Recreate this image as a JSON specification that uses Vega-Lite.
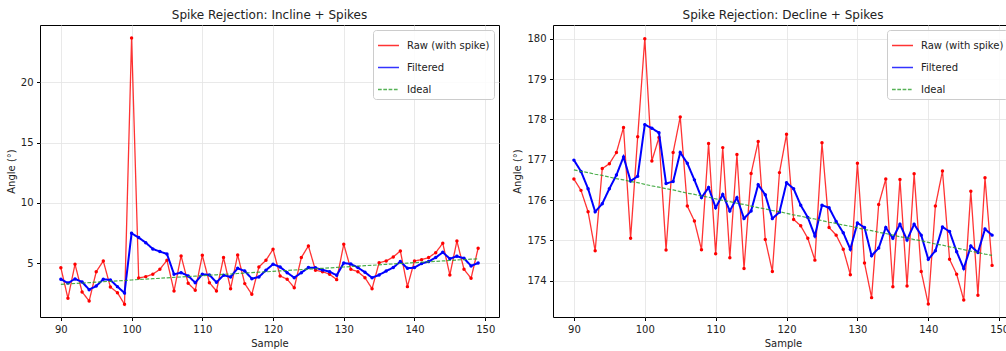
{
  "$schema": "https://vega.github.io/schema/vega-lite/v6.json",
  "padding": {"left": 5, "top": 8, "right": 0, "bottom": 0},
  "background": "white",
  "config": {
    "font": "DejaVu Sans",
    "view": {"stroke": "#000", "strokeWidth": 1},
    "axis": {
      "domain": false,
      "labelFontSize": 10,
      "titleFontSize": 10,
      "titleFontWeight": "normal",
      "labelColor": "#222",
      "titleColor": "#222",
      "tickColor": "#000",
      "tickSize": 3.5,
      "labelPadding": 3.5,
      "titlePadding": 4,
      "gridColor": "#e3e3e3",
      "gridWidth": 0.8
    },
    "title": {"fontSize": 12, "fontWeight": "normal", "color": "#222", "offset": 3},
    "legend": {
      "orient": "top-right",
      "offset": 5,
      "padding": 4,
      "strokeColor": "#cccccc",
      "fillColor": "rgba(255,255,255,0.85)",
      "cornerRadius": 3,
      "labelFontSize": 10,
      "labelColor": "#222",
      "symbolType": "stroke",
      "symbolSize": 440,
      "symbolStrokeWidth": 1.5,
      "labelOffset": 7,
      "rowPadding": 5
    }
  },
  "datasets": {
    "incline": [
      {"sample":90,"raw":4.63,"filtered":3.67,"ideal":3.25},
      {"sample":91,"raw":2.09,"filtered":3.36,"ideal":3.29},
      {"sample":92,"raw":4.92,"filtered":3.70,"ideal":3.32},
      {"sample":93,"raw":2.62,"filtered":3.45,"ideal":3.36},
      {"sample":94,"raw":1.87,"filtered":2.81,"ideal":3.39},
      {"sample":95,"raw":4.30,"filtered":3.11,"ideal":3.43},
      {"sample":96,"raw":5.19,"filtered":3.67,"ideal":3.47},
      {"sample":97,"raw":3.03,"filtered":3.61,"ideal":3.50},
      {"sample":98,"raw":2.56,"filtered":3.06,"ideal":3.54},
      {"sample":99,"raw":1.59,"filtered":2.53,"ideal":3.57},
      {"sample":100,"raw":23.69,"filtered":7.49,"ideal":3.61},
      {"sample":101,"raw":3.78,"filtered":7.13,"ideal":3.65},
      {"sample":102,"raw":3.89,"filtered":6.71,"ideal":3.68},
      {"sample":103,"raw":4.09,"filtered":6.19,"ideal":3.72},
      {"sample":104,"raw":4.50,"filtered":5.97,"ideal":3.75},
      {"sample":105,"raw":5.25,"filtered":5.77,"ideal":3.79},
      {"sample":106,"raw":2.70,"filtered":4.09,"ideal":3.83},
      {"sample":107,"raw":5.61,"filtered":4.22,"ideal":3.86},
      {"sample":108,"raw":3.34,"filtered":3.95,"ideal":3.90},
      {"sample":109,"raw":2.76,"filtered":3.39,"ideal":3.93},
      {"sample":110,"raw":5.66,"filtered":4.09,"ideal":3.97},
      {"sample":111,"raw":3.39,"filtered":4.03,"ideal":4.01},
      {"sample":112,"raw":2.70,"filtered":3.42,"ideal":4.04},
      {"sample":113,"raw":5.47,"filtered":4.00,"ideal":4.08},
      {"sample":114,"raw":2.89,"filtered":3.86,"ideal":4.11},
      {"sample":115,"raw":5.69,"filtered":4.58,"ideal":4.15},
      {"sample":116,"raw":3.31,"filtered":4.36,"ideal":4.19},
      {"sample":117,"raw":2.42,"filtered":3.72,"ideal":4.22},
      {"sample":118,"raw":4.69,"filtered":3.86,"ideal":4.26},
      {"sample":119,"raw":5.25,"filtered":4.42,"ideal":4.29},
      {"sample":120,"raw":6.16,"filtered":4.92,"ideal":4.33},
      {"sample":121,"raw":3.95,"filtered":4.69,"ideal":4.37},
      {"sample":122,"raw":3.67,"filtered":4.22,"ideal":4.40},
      {"sample":123,"raw":2.97,"filtered":3.80,"ideal":4.44},
      {"sample":124,"raw":5.47,"filtered":4.22,"ideal":4.47},
      {"sample":125,"raw":6.44,"filtered":4.64,"ideal":4.51},
      {"sample":126,"raw":4.42,"filtered":4.62,"ideal":4.55},
      {"sample":127,"raw":4.30,"filtered":4.44,"ideal":4.58},
      {"sample":128,"raw":4.09,"filtered":4.30,"ideal":4.62},
      {"sample":129,"raw":3.64,"filtered":4.00,"ideal":4.65},
      {"sample":130,"raw":6.58,"filtered":5.02,"ideal":4.69},
      {"sample":131,"raw":4.50,"filtered":4.94,"ideal":4.73},
      {"sample":132,"raw":4.30,"filtered":4.64,"ideal":4.76},
      {"sample":133,"raw":3.80,"filtered":4.25,"ideal":4.80},
      {"sample":134,"raw":2.89,"filtered":3.80,"ideal":4.83},
      {"sample":135,"raw":5.05,"filtered":4.03,"ideal":4.87},
      {"sample":136,"raw":5.19,"filtered":4.36,"ideal":4.91},
      {"sample":137,"raw":5.52,"filtered":4.64,"ideal":4.94},
      {"sample":138,"raw":6.02,"filtered":5.14,"ideal":4.98},
      {"sample":139,"raw":3.06,"filtered":4.58,"ideal":5.01},
      {"sample":140,"raw":5.19,"filtered":4.64,"ideal":5.05},
      {"sample":141,"raw":5.30,"filtered":4.97,"ideal":5.09},
      {"sample":142,"raw":5.47,"filtered":5.14,"ideal":5.12},
      {"sample":143,"raw":5.88,"filtered":5.47,"ideal":5.16},
      {"sample":144,"raw":6.66,"filtered":5.91,"ideal":5.19},
      {"sample":145,"raw":4.03,"filtered":5.38,"ideal":5.23},
      {"sample":146,"raw":6.85,"filtered":5.58,"ideal":5.27},
      {"sample":147,"raw":4.50,"filtered":5.41,"ideal":5.30},
      {"sample":148,"raw":3.75,"filtered":4.78,"ideal":5.34},
      {"sample":149,"raw":6.25,"filtered":5.02,"ideal":5.37}
    ],
    "decline": [
      {"sample":90,"raw":176.52,"filtered":176.99,"ideal":176.75},
      {"sample":91,"raw":176.24,"filtered":176.71,"ideal":176.71},
      {"sample":92,"raw":175.71,"filtered":176.28,"ideal":176.68},
      {"sample":93,"raw":174.74,"filtered":175.71,"ideal":176.64},
      {"sample":94,"raw":176.78,"filtered":175.91,"ideal":176.61},
      {"sample":95,"raw":176.90,"filtered":176.28,"ideal":176.57},
      {"sample":96,"raw":177.18,"filtered":176.62,"ideal":176.53},
      {"sample":97,"raw":177.80,"filtered":177.07,"ideal":176.50},
      {"sample":98,"raw":175.05,"filtered":176.47,"ideal":176.46},
      {"sample":99,"raw":177.57,"filtered":176.59,"ideal":176.43},
      {"sample":100,"raw":180.00,"filtered":177.87,"ideal":176.39},
      {"sample":101,"raw":176.97,"filtered":177.78,"ideal":176.35},
      {"sample":102,"raw":177.55,"filtered":177.67,"ideal":176.32},
      {"sample":103,"raw":174.76,"filtered":176.41,"ideal":176.28},
      {"sample":104,"raw":177.18,"filtered":176.46,"ideal":176.25},
      {"sample":105,"raw":178.06,"filtered":177.18,"ideal":176.21},
      {"sample":106,"raw":175.85,"filtered":176.91,"ideal":176.17},
      {"sample":107,"raw":175.48,"filtered":176.50,"ideal":176.14},
      {"sample":108,"raw":174.77,"filtered":176.06,"ideal":176.10},
      {"sample":109,"raw":177.40,"filtered":176.31,"ideal":176.07},
      {"sample":110,"raw":174.67,"filtered":175.81,"ideal":176.03},
      {"sample":111,"raw":177.30,"filtered":176.14,"ideal":175.99},
      {"sample":112,"raw":174.57,"filtered":175.73,"ideal":175.96},
      {"sample":113,"raw":177.13,"filtered":176.06,"ideal":175.92},
      {"sample":114,"raw":174.30,"filtered":175.54,"ideal":175.89},
      {"sample":115,"raw":176.66,"filtered":175.73,"ideal":175.85},
      {"sample":116,"raw":177.45,"filtered":176.38,"ideal":175.81},
      {"sample":117,"raw":175.02,"filtered":176.13,"ideal":175.78},
      {"sample":118,"raw":174.23,"filtered":175.54,"ideal":175.74},
      {"sample":119,"raw":176.68,"filtered":175.70,"ideal":175.71},
      {"sample":120,"raw":177.63,"filtered":176.43,"ideal":175.67},
      {"sample":121,"raw":175.52,"filtered":176.28,"ideal":175.63},
      {"sample":122,"raw":175.36,"filtered":175.87,"ideal":175.60},
      {"sample":123,"raw":175.05,"filtered":175.57,"ideal":175.56},
      {"sample":124,"raw":174.51,"filtered":175.11,"ideal":175.53},
      {"sample":125,"raw":177.42,"filtered":175.87,"ideal":175.49},
      {"sample":126,"raw":175.32,"filtered":175.81,"ideal":175.45},
      {"sample":127,"raw":175.13,"filtered":175.47,"ideal":175.42},
      {"sample":128,"raw":174.78,"filtered":175.19,"ideal":175.38},
      {"sample":129,"raw":174.15,"filtered":174.78,"ideal":175.35},
      {"sample":130,"raw":176.91,"filtered":175.43,"ideal":175.31},
      {"sample":131,"raw":174.44,"filtered":175.32,"ideal":175.27},
      {"sample":132,"raw":173.58,"filtered":174.62,"ideal":175.24},
      {"sample":133,"raw":175.89,"filtered":174.81,"ideal":175.20},
      {"sample":134,"raw":176.52,"filtered":175.32,"ideal":175.17},
      {"sample":135,"raw":173.85,"filtered":175.05,"ideal":175.13},
      {"sample":136,"raw":176.51,"filtered":175.40,"ideal":175.09},
      {"sample":137,"raw":173.87,"filtered":175.01,"ideal":175.06},
      {"sample":138,"raw":176.65,"filtered":175.40,"ideal":175.02},
      {"sample":139,"raw":174.23,"filtered":175.13,"ideal":174.99},
      {"sample":140,"raw":173.42,"filtered":174.53,"ideal":174.95},
      {"sample":141,"raw":175.85,"filtered":174.74,"ideal":174.91},
      {"sample":142,"raw":176.72,"filtered":175.33,"ideal":174.88},
      {"sample":143,"raw":174.53,"filtered":175.22,"ideal":174.84},
      {"sample":144,"raw":174.16,"filtered":174.72,"ideal":174.81},
      {"sample":145,"raw":173.52,"filtered":174.30,"ideal":174.77},
      {"sample":146,"raw":176.22,"filtered":174.86,"ideal":174.73},
      {"sample":147,"raw":173.64,"filtered":174.70,"ideal":174.70},
      {"sample":148,"raw":176.55,"filtered":175.28,"ideal":174.66},
      {"sample":149,"raw":174.38,"filtered":175.13,"ideal":174.63}
    ]
  },
  "resolve": {"scale": {"color": "independent", "strokeDash": "independent"}},
  "spacing": 12,
  "hconcat": [
    {
      "title": "Spike Rejection: Incline + Spikes",
      "width": 459,
      "height": 292,
      "data": {"name": "incline"},
      "encoding": {
        "x": {"field": "sample", "type": "quantitative", "scale": {"domain": [87.05, 151.95], "nice": false, "zero": false}, "axis": {"values": [90, 100, 110, 120, 130, 140, 150], "title": "Sample"}}
      },
      "layer": [
        {
          "mark": {"type": "line", "opacity": 0.8, "strokeWidth": 1.3, "point": {"filled": true, "size": 12}},
          "encoding": {
            "y": {"field": "raw", "type": "quantitative", "scale": {"domain": [0.54, 24.77], "nice": false, "zero": false}, "axis": {"values": [5, 10, 15, 20], "title": "Angle (°)"}},
            "color": {"datum": "Raw (with spike)", "type": "nominal", "scale": {"domain": ["Raw (with spike)", "Filtered", "Ideal"], "range": ["#ff0000", "#0000ff", "#2ca02c"]}, "legend": {"title": null}},
            "strokeDash": {"datum": "Raw (with spike)", "type": "nominal", "scale": {"domain": ["Raw (with spike)", "Filtered", "Ideal"], "range": [[1, 0], [1, 0], [3.7, 1.6]]}, "legend": {"title": null}}
          }
        },
        {
          "mark": {"type": "line", "strokeWidth": 2, "point": {"filled": true, "size": 12}},
          "encoding": {
            "y": {"field": "filtered", "type": "quantitative"},
            "color": {"datum": "Filtered", "type": "nominal"},
            "strokeDash": {"datum": "Filtered", "type": "nominal"}
          }
        },
        {
          "mark": {"type": "line", "opacity": 0.85, "strokeWidth": 1.2},
          "encoding": {
            "y": {"field": "ideal", "type": "quantitative"},
            "color": {"datum": "Ideal", "type": "nominal"},
            "strokeDash": {"datum": "Ideal", "type": "nominal"}
          }
        }
      ]
    },
    {
      "title": "Spike Rejection: Decline + Spikes",
      "width": 460,
      "height": 292,
      "data": {"name": "decline"},
      "encoding": {
        "x": {"field": "sample", "type": "quantitative", "scale": {"domain": [87.05, 151.95], "nice": false, "zero": false}, "axis": {"values": [90, 100, 110, 120, 130, 140, 150], "title": "Sample"}}
      },
      "layer": [
        {
          "mark": {"type": "line", "opacity": 0.8, "strokeWidth": 1.3, "point": {"filled": true, "size": 12}},
          "encoding": {
            "y": {"field": "raw", "type": "quantitative", "scale": {"domain": [173.1, 180.34], "nice": false, "zero": false}, "axis": {"values": [174, 175, 176, 177, 178, 179, 180], "title": "Angle (°)"}},
            "color": {"datum": "Raw (with spike)", "type": "nominal", "scale": {"domain": ["Raw (with spike)", "Filtered", "Ideal"], "range": ["#ff0000", "#0000ff", "#2ca02c"]}, "legend": {"title": null}},
            "strokeDash": {"datum": "Raw (with spike)", "type": "nominal", "scale": {"domain": ["Raw (with spike)", "Filtered", "Ideal"], "range": [[1, 0], [1, 0], [3.7, 1.6]]}, "legend": {"title": null}}
          }
        },
        {
          "mark": {"type": "line", "strokeWidth": 2, "point": {"filled": true, "size": 12}},
          "encoding": {
            "y": {"field": "filtered", "type": "quantitative"},
            "color": {"datum": "Filtered", "type": "nominal"},
            "strokeDash": {"datum": "Filtered", "type": "nominal"}
          }
        },
        {
          "mark": {"type": "line", "opacity": 0.85, "strokeWidth": 1.2},
          "encoding": {
            "y": {"field": "ideal", "type": "quantitative"},
            "color": {"datum": "Ideal", "type": "nominal"},
            "strokeDash": {"datum": "Ideal", "type": "nominal"}
          }
        }
      ]
    }
  ]
}
